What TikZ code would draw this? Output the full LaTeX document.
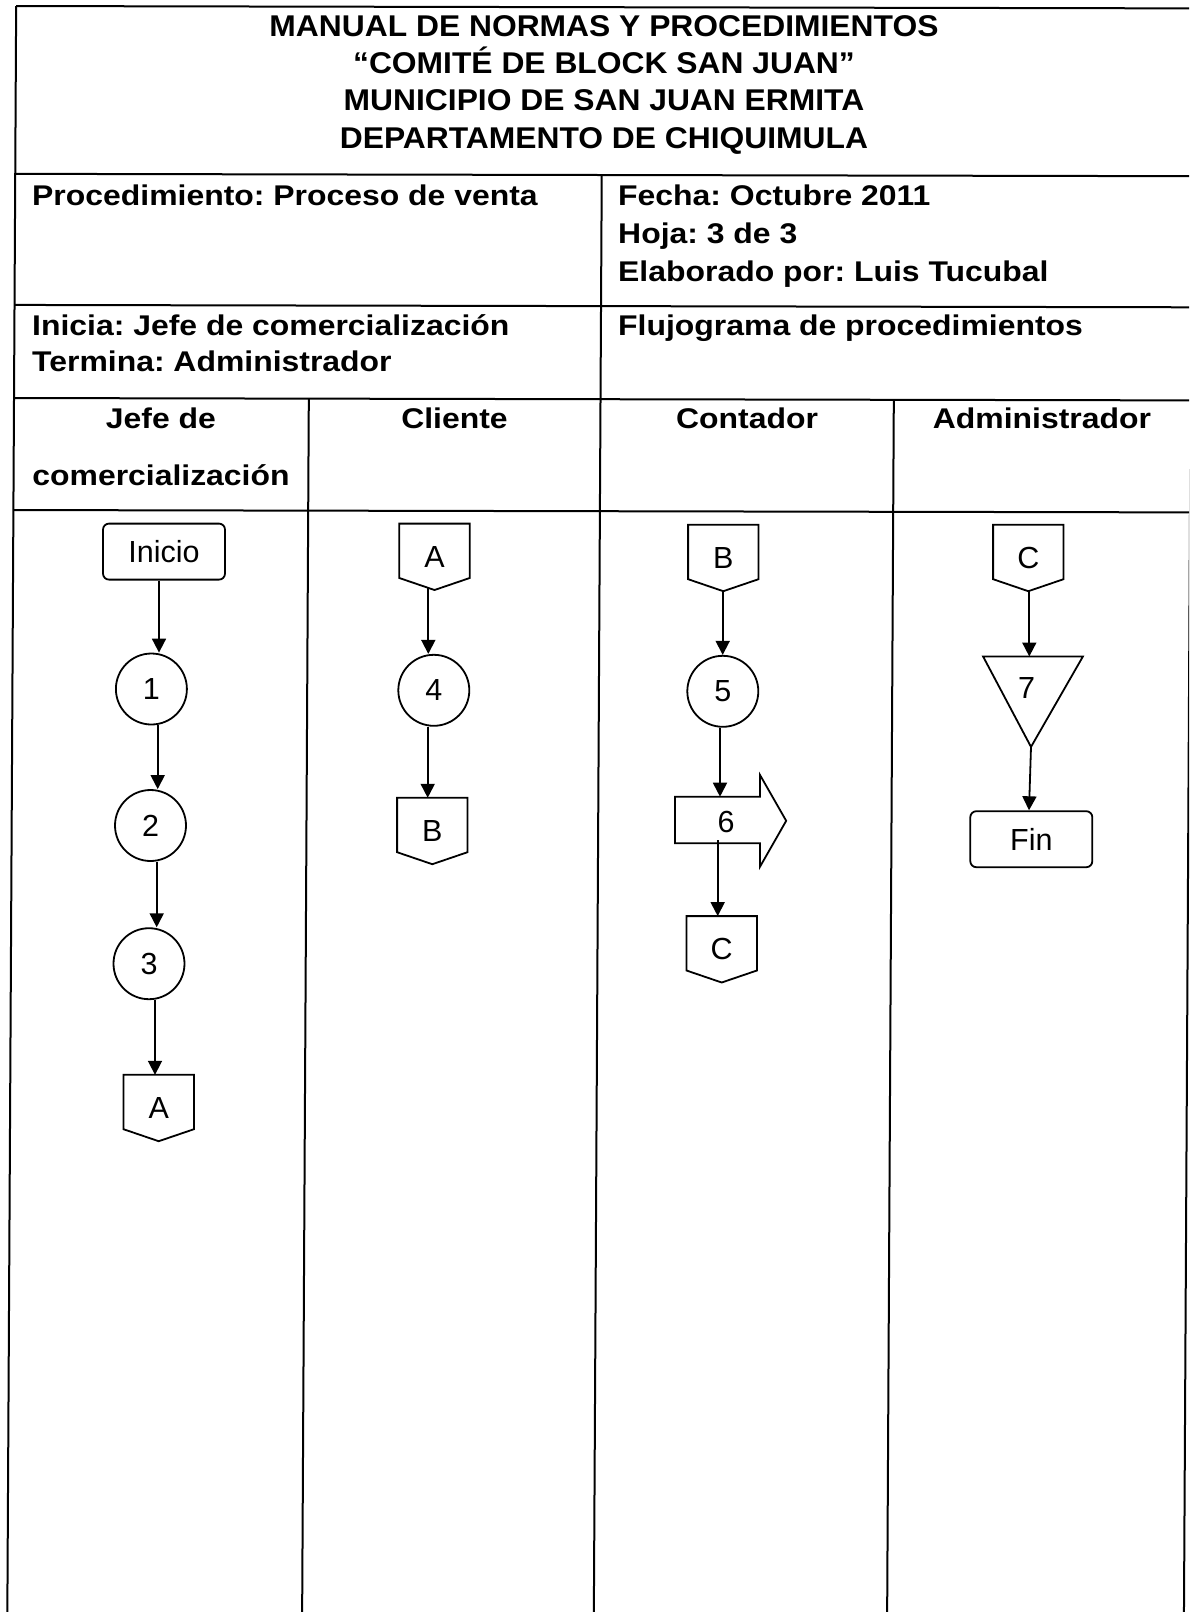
\documentclass[tikz,border=0pt]{standalone}
\usepackage{fontspec}
\setmainfont{Liberation Sans}
\newfontfamily\ttlfam{Liberation Sans}[FakeStretch=1.06]
\newfontfamily\bdyfam{Liberation Sans}[FakeStretch=1.12]
\usetikzlibrary{arrows.meta,calc}
\frenchspacing
\newcommand\ttlfont{\ttlfam\bfseries\fontsize{30}{36}\selectfont}
\newcommand\bdyfont{\bdyfam\bfseries\fontsize{28.5}{34}\selectfont}
\newcommand\lblfont{\fontsize{30.5}{36}\selectfont}
\tikzset{
  tbl/.style={line width=2pt},
  ln/.style={line width=1.8pt},
  arr/.style={ln,-{Triangle[length=14pt,width=14pt]}},
  rbox/.style={draw,ln,rounded corners=6pt,minimum width=122pt,minimum height=56pt,inner sep=0pt,font=\lblfont},
  circ/.style={draw,ln,circle,minimum size=71pt,inner sep=0pt,font=\lblfont},
  offp/.style={minimum width=70pt,minimum height=66pt,inner sep=0pt,font=\lblfont},
  sixbox/.style={minimum width=111pt,minimum height=92pt,inner sep=0pt},
  tribox/.style={minimum width=99.4pt,minimum height=90pt,inner sep=0pt},
  lbl/.style={inner sep=0pt,font=\lblfont},
  txt/.style={inner sep=0pt,anchor=base west,font=\bdyfont},
  hdr/.style={inner sep=0pt,anchor=base,font=\bdyfont},
  ttl/.style={inner sep=0pt,anchor=base,font=\ttlfont},
}
\begin{document}
\begin{tikzpicture}[x=1pt,y=-1pt]
\useasboundingbox (0,0) rectangle (1189,1612);
\clip (0,0) rectangle (1189,1612);
\fill[white] (0,0) rectangle (1189,1612);
% table frame (slightly skewed like the scan)
\begin{scope}[cm={1,-0.002,0.0055,1,(0,0)}]
  \draw[tbl] (16.2,6) -- (1205,6);
  \draw[tbl] (16.2,6) -- (16.2,1660);
  \draw[tbl] (1192.8,6) -- (1192.8,1660);
  \draw[tbl] (16.2,173.8) -- (1205,173.8);
  \draw[tbl] (16.2,304.9) -- (1205,304.9);
  \draw[tbl] (16.2,398) -- (1205,398);
  \draw[tbl] (16.2,510) -- (1205,510);
  \draw[tbl] (602.7,173.8) -- (602.7,1660);
  \draw[tbl] (311,398) -- (311,1660);
  \draw[tbl] (896,398) -- (896,1660);
\end{scope}
% header texts
\node[ttl] (t1) at (604,36.7) {MANUAL DE NORMAS Y PROCEDIMIENTOS};
\node[ttl] (t2) at (604,73.3) {“COMITÉ DE BLOCK SAN JUAN”};
\node[ttl] (t3) at (604,110) {MUNICIPIO DE SAN JUAN ERMITA};
\node[ttl] (t4) at (604,148) {DEPARTAMENTO DE CHIQUIMULA};
\node[txt] (proc) at (32,205) {Procedimiento: Proceso de venta};
\node[txt] (fecha) at (618,205) {Fecha: Octubre 2011};
\node[txt] (hoja) at (618,243) {Hoja: 3 de 3};
\node[txt] (elab) at (618,281) {Elaborado por: Luis Tucubal};
\node[txt] (ini) at (32,335) {Inicia: Jefe de comercialización};
\node[txt] (term) at (32,371) {Termina: Administrador};
\node[txt] (fluj) at (618,335) {Flujograma de procedimientos};
\node[hdr] (h1a) at (161,428) {Jefe de};
\node[hdr] (h1b) at (161,485) {comercialización};
\node[hdr] (h2) at (454.5,428) {Cliente};
\node[hdr] (h3) at (747,428) {Contador};
\node[hdr] (h4) at (1042,428) {Administrador};
% flowchart nodes
\node[rbox] (inicio) at (164,551.6) {Inicio};
\node[circ] (c1) at (151.4,689) {1};
\node[circ] (c2) at (150.5,825.5) {2};
\node[circ] (c3) at (149,963.7) {3};
\node[offp] (oA1) at (158.7,1108) {A};
\node[offp] (oA2) at (434.5,556.8) {A};
\node[circ] (c4) at (433.8,690.3) {4};
\node[offp] (oB2) at (432.3,831) {B};
\node[offp] (oB3) at (723.3,558) {B};
\node[circ] (c5) at (722.8,691.3) {5};
\node[sixbox] (s6) at (730.5,820.8) {};
\node[lbl] (s6l) at (726,821.7) {6};
\node[offp] (oC3) at (721.7,949.3) {C};
\node[offp] (oC4) at (1028.3,558) {C};
\node[tribox] (t7) at (1033,701.7) {};
\node[lbl] (t7l) at (1026.7,687.5) {7};
\node[rbox] (fin) at (1031.3,839.2) {Fin};
% shape outlines
\foreach \n in {oA1,oA2,oB2,oB3,oC3,oC4}
  \draw[ln] (\n.north west) -- (\n.north east) -- ([yshift=12pt]\n.south east)
    -- (\n.south) -- ([yshift=12pt]\n.south west) -- cycle;
\draw[ln] ($(s6.center)+(-55.5,-24.1)$) -- ($(s6.center)+(29.5,-24.1)$)
  -- ($(s6.center)+(29.5,-45.8)$) -- (s6.east) -- ($(s6.center)+(29.5,45.9)$)
  -- ($(s6.center)+(29.5,22.5)$) -- ($(s6.center)+(-55.5,22.5)$) -- cycle;
\draw[ln] (t7.north west) -- (t7.north east) -- ([xshift=-2pt]t7.south) -- cycle;
% connectors
\draw[arr] ([xshift=-5pt]inicio.south) -- ([xshift=7.6pt]c1.north);
\draw[arr] ([xshift=6.3pt]c1.south) -- ([xshift=7.2pt]c2.north);
\draw[arr] ([xshift=6.2pt]c2.south) -- ([xshift=7.7pt]c3.north);
\draw[arr] ([xshift=6pt]c3.south) -- ([xshift=-3.7pt]oA1.north);
\draw[arr] ([xshift=-6.2pt,yshift=2pt]oA2.south) -- ([xshift=-5.5pt]c4.north);
\draw[arr] ([xshift=-6.1pt]c4.south) -- ([xshift=-4.6pt]oB2.north);
\draw[arr] ([xshift=-0.6pt]oB3.south) -- ([xshift=-0.1pt]c5.north);
\draw[arr] ([xshift=-2.8pt]c5.south) -- ($(s6.center)+(-10.5,-24.1)$);
\draw[arr] ($(s6.center)+(-12.8,19.2)$) -- ([xshift=-4pt]oC3.north);
\draw[arr] ([xshift=1pt]oC4.south) -- ([xshift=-3.7pt]t7.north);
\draw[arr] ([xshift=-2pt]t7.south) -- ([xshift=-2.3pt]fin.north);
\end{tikzpicture}
\end{document}
